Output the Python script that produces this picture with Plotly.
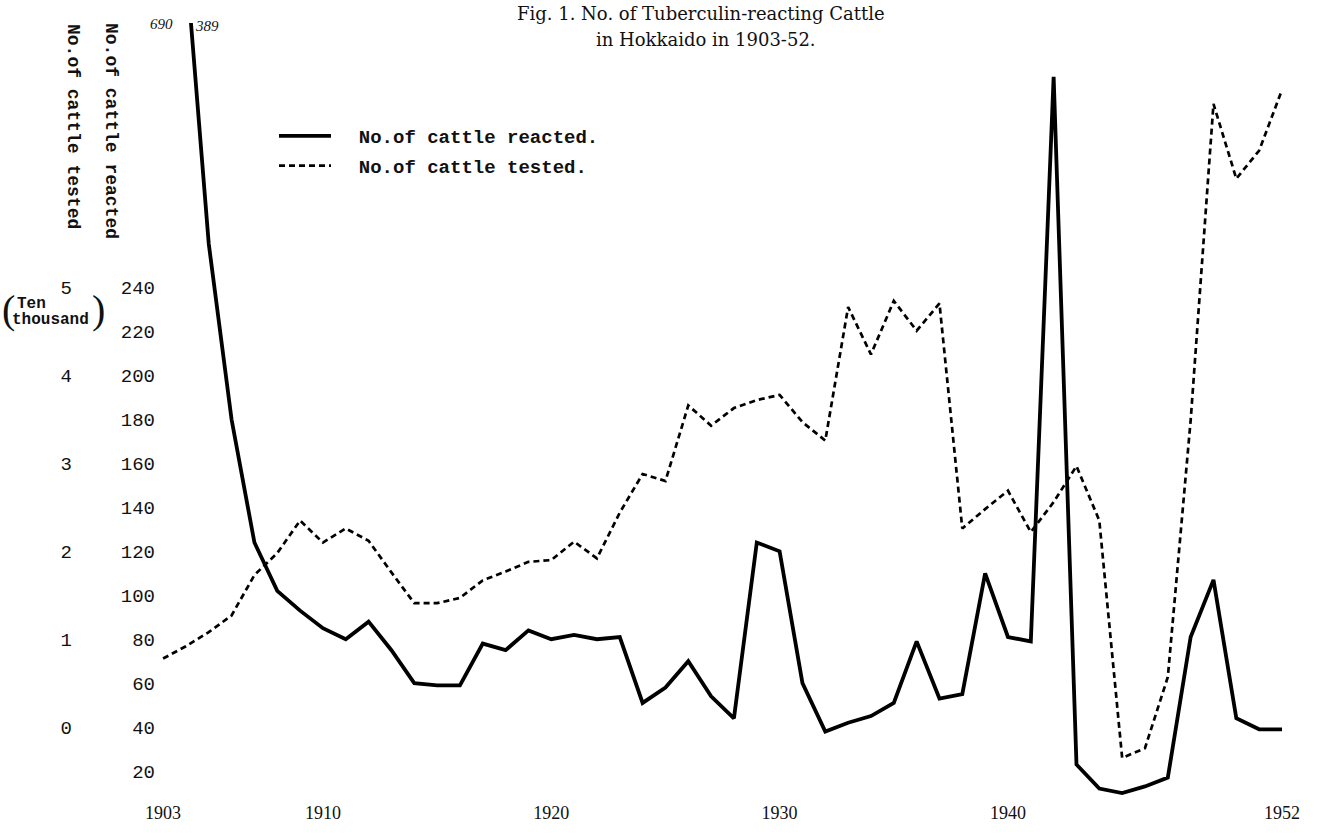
import plotly.graph_objects as go

# ---------------- data ----------------
years = list(range(1903, 1953))

# No. of cattle reacted (head)
reacted = [690, 389, 260, 180, 124, 102, 93, 85, 80, 88,
           75, 60, 59, 59, 78, 75, 84, 80, 82, 80,
           81, 51, 58, 70, 54, 44, 124, 120, 60, 38,
           42, 45, 51, 79, 53, 55, 110, 81, 79, 336,
           23, 12, 10, 13, 17, 81, 107, 44, 39, 39]

# No. of cattle tested (ten thousand head), as drawn against the left scale
tested = [0.78, 0.92, 1.08, 1.27, 1.73, 1.98, 2.35, 2.10, 2.26, 2.12,
          1.76, 1.41, 1.41, 1.47, 1.67, 1.77, 1.88, 1.90, 2.11, 1.92,
          2.44, 2.88, 2.80, 3.66, 3.43, 3.63, 3.72, 3.78, 3.47, 3.26,
          4.78, 4.24, 4.85, 4.51, 4.82, 2.26, 2.48, 2.69, 2.22, 2.56,
          2.97, 2.35, -0.35, -0.24, 0.57, 3.49, 7.09, 6.24, 6.56, 7.25]

year_ticks = [1903, 1910, 1920, 1930, 1940, 1952]
year_labels = ["1903", "1910", "1920", "1930", "1940", "1952"]
reacted_ticks = [20, 40, 60, 80, 100, 120, 140, 160, 180, 200, 220, 240]
tested_ticks = [0, 1, 2, 3, 4, 5]

title_lines = ["Fig. 1. No. of Tuberculin-reacting Cattle", "in Hokkaido in 1903-52."]

# ---------------- figure ----------------
MONO = "Liberation Mono"
SERIF = "Liberation Serif"
TSERIF = "DejaVu Serif"
NB = "\u00a0\u00a0"

fig = go.Figure()
fig.add_trace(go.Scatter(
    x=years, y=reacted, mode="lines", name=NB + "No.of cattle reacted.",
    legendgroup="a",
    line=dict(color="#000000", width=3.8), yaxis="y"))
fig.add_trace(go.Scatter(
    x=years, y=tested, mode="lines", name=NB + "No.of cattle tested.",
    legendgroup="b",
    line=dict(color="#000000", width=2.7, dash="6px,4px"), yaxis="y2"))

W, H = 1323, 834
ML, MR, MT, MB = 0, 20, 23, 34
PW = W - ML - MR
PH = H - MT - MB

def px_x(p):
    return (p - ML) / PW

def px_y(p):
    return 1 - (p - MT) / PH

fig.update_layout(
    width=W, height=H,
    margin=dict(l=ML, r=MR, t=MT, b=MB, pad=0, autoexpand=False),
    paper_bgcolor="white", plot_bgcolor="white",
    xaxis=dict(domain=[px_x(156), 1], range=[1902.69, 1952.92],
               tickvals=year_ticks, ticktext=year_labels, automargin=False,
               showgrid=False, zeroline=False, showline=False, ticks="",
               tickfont=dict(family=SERIF, size=18, color="#111")),
    yaxis=dict(range=[6.82, 360.45], tickvals=reacted_ticks, automargin=False,
               showgrid=False, zeroline=False, showline=False, ticks="",
               tickfont=dict(family=MONO, size=19, color="#111"),
               anchor="x"),
    yaxis2=dict(range=[-0.8295, 8.0113], tickvals=tested_ticks, automargin=False,
                overlaying="y", anchor="free", position=px_x(72), side="left",
                showgrid=False, zeroline=False, showline=False, ticks="",
                tickfont=dict(family=MONO, size=19, color="#111")),
    legend=dict(x=px_x(274), y=px_y(117), xanchor="left", yanchor="top",
                bgcolor="rgba(0,0,0,0)", itemwidth=52,
                font=dict(family=MONO, size=19, color="#111", weight="bold"),
                tracegroupgap=2),
    showlegend=True,
)

# title (two centred lines)
title_font = dict(family=TSERIF, size=18, color="#111")
fig.add_annotation(text=title_lines[0], showarrow=False, xref="paper", yref="paper",
                   x=px_x(701), y=px_y(13), xanchor="center", yanchor="middle",
                   font=title_font)
fig.add_annotation(text=title_lines[1], showarrow=False, xref="paper", yref="paper",
                   x=px_x(706), y=px_y(39), xanchor="center", yanchor="middle",
                   font=title_font)

ann_font = dict(family=MONO, size=18, color="#111", weight="bold")
fig.add_annotation(text="No.of cattle reacted", textangle=90, showarrow=False,
                   xref="paper", yref="paper", x=px_x(111), y=px_y(131),
                   xanchor="center", yanchor="middle", font=ann_font)
fig.add_annotation(text="No.of cattle tested", textangle=90, showarrow=False,
                   xref="paper", yref="paper", x=px_x(73), y=px_y(126),
                   xanchor="center", yanchor="middle", font=ann_font)

small_font = dict(family=MONO, size=16, color="#111", weight="bold")
fig.add_annotation(text="Ten", showarrow=False, xref="paper", yref="paper",
                   x=px_x(15), y=px_y(304), xanchor="left", yanchor="middle", font=small_font)
fig.add_annotation(text="thousand", showarrow=False, xref="paper", yref="paper",
                   x=px_x(10), y=px_y(320), xanchor="left", yanchor="middle", font=small_font)
paren_font = dict(family=SERIF, size=40, color="#111")
fig.add_annotation(text="(", showarrow=False, xref="paper", yref="paper",
                   x=px_x(0), y=px_y(309), xanchor="left", yanchor="middle", font=paren_font)
fig.add_annotation(text=")", showarrow=False, xref="paper", yref="paper",
                   x=px_x(107), y=px_y(309), xanchor="right", yanchor="middle", font=paren_font)

hand_font = dict(family=SERIF, size=15, color="#111", style="italic")
fig.add_annotation(text=f"{reacted[0]}", showarrow=False, xref="paper", yref="paper",
                   x=px_x(175), y=px_y(24), xanchor="right", yanchor="middle", font=hand_font)
fig.add_annotation(text=f"{reacted[1]}", showarrow=False, xref="paper", yref="paper",
                   x=px_x(193), y=px_y(26), xanchor="left", yanchor="middle", font=hand_font)

fig.write_html("out.html", config={"displayModeBar": False},
               post_script="document.body.style.margin='0';")
